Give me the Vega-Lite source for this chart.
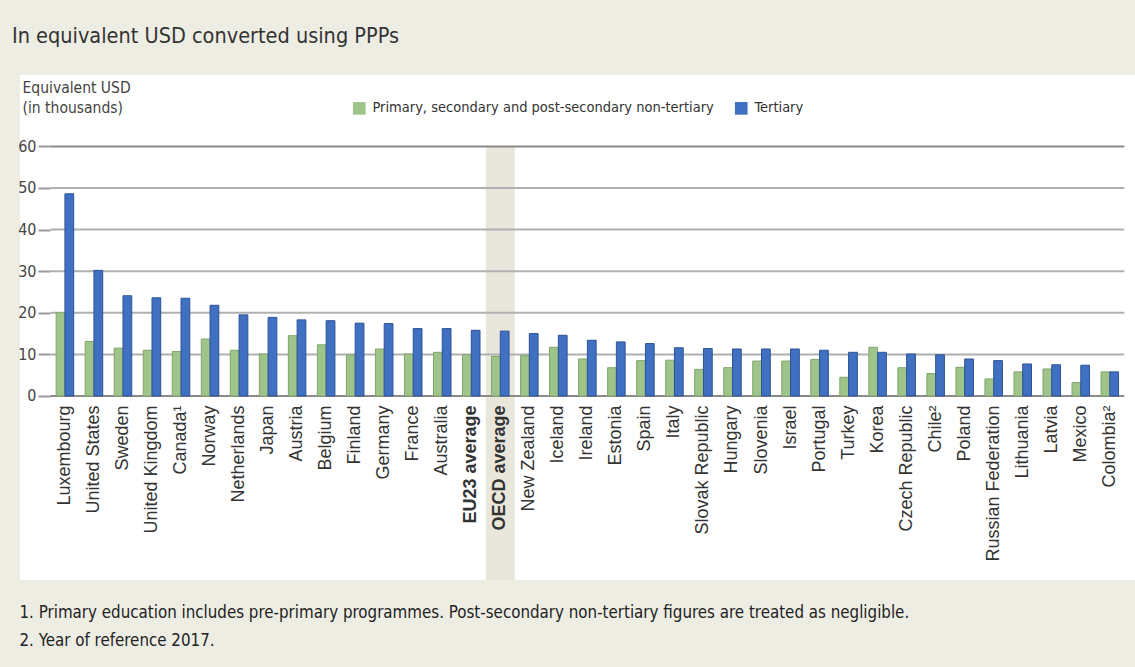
{
  "$schema": "https://vega.github.io/schema/vega-lite/v6.json",
  "autosize": "none",
  "width": 1115,
  "height": 505,
  "padding": {"left": 20, "top": 75, "right": 0, "bottom": 87},
  "background": "#eeede4",
  "config": {
    "view": {"fill": "white", "stroke": null},
    "font": "'DejaVu Sans Condensed', sans-serif"
  },
  "title": {
    "text": "In equivalent USD converted using PPPs",
    "anchor": "start",
    "frame": "group",
    "dx": -8,
    "offset": 28,
    "fontSize": 21.5,
    "fontWeight": "normal",
    "color": "#333333",
    "font": "'DejaVu Sans Condensed', sans-serif"
  },
  "data": {
    "values": [
      {"country": "Luxembourg", "series": "Primary, secondary and post-secondary non-tertiary", "value": 20.0},
      {"country": "Luxembourg", "series": "Tertiary", "value": 48.6},
      {"country": "United States", "series": "Primary, secondary and post-secondary non-tertiary", "value": 13.1},
      {"country": "United States", "series": "Tertiary", "value": 30.2},
      {"country": "Sweden", "series": "Primary, secondary and post-secondary non-tertiary", "value": 11.5},
      {"country": "Sweden", "series": "Tertiary", "value": 24.1},
      {"country": "United Kingdom", "series": "Primary, secondary and post-secondary non-tertiary", "value": 11.0},
      {"country": "United Kingdom", "series": "Tertiary", "value": 23.6},
      {"country": "Canada¹", "series": "Primary, secondary and post-secondary non-tertiary", "value": 10.7},
      {"country": "Canada¹", "series": "Tertiary", "value": 23.5},
      {"country": "Norway", "series": "Primary, secondary and post-secondary non-tertiary", "value": 13.7},
      {"country": "Norway", "series": "Tertiary", "value": 21.8},
      {"country": "Netherlands", "series": "Primary, secondary and post-secondary non-tertiary", "value": 11.0},
      {"country": "Netherlands", "series": "Tertiary", "value": 19.5},
      {"country": "Japan", "series": "Primary, secondary and post-secondary non-tertiary", "value": 10.1},
      {"country": "Japan", "series": "Tertiary", "value": 18.9},
      {"country": "Austria", "series": "Primary, secondary and post-secondary non-tertiary", "value": 14.5},
      {"country": "Austria", "series": "Tertiary", "value": 18.3},
      {"country": "Belgium", "series": "Primary, secondary and post-secondary non-tertiary", "value": 12.3},
      {"country": "Belgium", "series": "Tertiary", "value": 18.1},
      {"country": "Finland", "series": "Primary, secondary and post-secondary non-tertiary", "value": 9.9},
      {"country": "Finland", "series": "Tertiary", "value": 17.5},
      {"country": "Germany", "series": "Primary, secondary and post-secondary non-tertiary", "value": 11.3},
      {"country": "Germany", "series": "Tertiary", "value": 17.4},
      {"country": "France", "series": "Primary, secondary and post-secondary non-tertiary", "value": 10.1},
      {"country": "France", "series": "Tertiary", "value": 16.2},
      {"country": "Australia", "series": "Primary, secondary and post-secondary non-tertiary", "value": 10.5},
      {"country": "Australia", "series": "Tertiary", "value": 16.2},
      {"country": "EU23 average", "series": "Primary, secondary and post-secondary non-tertiary", "value": 9.9},
      {"country": "EU23 average", "series": "Tertiary", "value": 15.8},
      {"country": "OECD average", "series": "Primary, secondary and post-secondary non-tertiary", "value": 9.5},
      {"country": "OECD average", "series": "Tertiary", "value": 15.6},
      {"country": "New Zealand", "series": "Primary, secondary and post-secondary non-tertiary", "value": 9.7},
      {"country": "New Zealand", "series": "Tertiary", "value": 15.0},
      {"country": "Iceland", "series": "Primary, secondary and post-secondary non-tertiary", "value": 11.7},
      {"country": "Iceland", "series": "Tertiary", "value": 14.6},
      {"country": "Ireland", "series": "Primary, secondary and post-secondary non-tertiary", "value": 8.9},
      {"country": "Ireland", "series": "Tertiary", "value": 13.4},
      {"country": "Estonia", "series": "Primary, secondary and post-secondary non-tertiary", "value": 6.8},
      {"country": "Estonia", "series": "Tertiary", "value": 13.0},
      {"country": "Spain", "series": "Primary, secondary and post-secondary non-tertiary", "value": 8.5},
      {"country": "Spain", "series": "Tertiary", "value": 12.6},
      {"country": "Italy", "series": "Primary, secondary and post-secondary non-tertiary", "value": 8.6},
      {"country": "Italy", "series": "Tertiary", "value": 11.6},
      {"country": "Slovak Republic", "series": "Primary, secondary and post-secondary non-tertiary", "value": 6.4},
      {"country": "Slovak Republic", "series": "Tertiary", "value": 11.4},
      {"country": "Hungary", "series": "Primary, secondary and post-secondary non-tertiary", "value": 6.8},
      {"country": "Hungary", "series": "Tertiary", "value": 11.3},
      {"country": "Slovenia", "series": "Primary, secondary and post-secondary non-tertiary", "value": 8.4},
      {"country": "Slovenia", "series": "Tertiary", "value": 11.3},
      {"country": "Israel", "series": "Primary, secondary and post-secondary non-tertiary", "value": 8.4},
      {"country": "Israel", "series": "Tertiary", "value": 11.3},
      {"country": "Portugal", "series": "Primary, secondary and post-secondary non-tertiary", "value": 8.8},
      {"country": "Portugal", "series": "Tertiary", "value": 11.0},
      {"country": "Turkey", "series": "Primary, secondary and post-secondary non-tertiary", "value": 4.5},
      {"country": "Turkey", "series": "Tertiary", "value": 10.5},
      {"country": "Korea", "series": "Primary, secondary and post-secondary non-tertiary", "value": 11.7},
      {"country": "Korea", "series": "Tertiary", "value": 10.5},
      {"country": "Czech Republic", "series": "Primary, secondary and post-secondary non-tertiary", "value": 6.8},
      {"country": "Czech Republic", "series": "Tertiary", "value": 10.1},
      {"country": "Chile²", "series": "Primary, secondary and post-secondary non-tertiary", "value": 5.4},
      {"country": "Chile²", "series": "Tertiary", "value": 9.9},
      {"country": "Poland", "series": "Primary, secondary and post-secondary non-tertiary", "value": 6.9},
      {"country": "Poland", "series": "Tertiary", "value": 8.9},
      {"country": "Russian Federation", "series": "Primary, secondary and post-secondary non-tertiary", "value": 4.1},
      {"country": "Russian Federation", "series": "Tertiary", "value": 8.5},
      {"country": "Lithuania", "series": "Primary, secondary and post-secondary non-tertiary", "value": 5.8},
      {"country": "Lithuania", "series": "Tertiary", "value": 7.7},
      {"country": "Latvia", "series": "Primary, secondary and post-secondary non-tertiary", "value": 6.5},
      {"country": "Latvia", "series": "Tertiary", "value": 7.5},
      {"country": "Mexico", "series": "Primary, secondary and post-secondary non-tertiary", "value": 3.2},
      {"country": "Mexico", "series": "Tertiary", "value": 7.4},
      {"country": "Colombia²", "series": "Primary, secondary and post-secondary non-tertiary", "value": 5.8},
      {"country": "Colombia²", "series": "Tertiary", "value": 5.8}
    ]
  },
  "layer": [
    {
      "transform": [{"filter": "datum.country == 'OECD average' && datum.series == 'Tertiary'"}],
      "mark": {"type": "rect", "color": "#e9e7dc"},
      "encoding": {
        "x": {"field": "country", "type": "nominal", "sort": null},
        "y": {"datum": 60, "type": "quantitative"},
        "y2": {"datum": -44.23}
      }
    },
    {
      "data": {"values": [{"tick": 0}, {"tick": 10}, {"tick": 20}, {"tick": 30}, {"tick": 40}, {"tick": 50}, {"tick": 60}]},
      "mark": {"type": "rule", "strokeWidth": 2},
      "encoding": {
        "y": {"field": "tick", "type": "quantitative"},
        "x": {"datum": "Luxembourg", "bandPosition": 0},
        "x2": {"datum": "Colombia²", "bandPosition": 1},
        "color": {
          "condition": {"test": "datum.tick == 60 || datum.tick == 0", "value": "#8a8a8a"},
          "value": "#b0b0b0"
        }
      }
    },
    {
      "mark": {"type": "bar", "strokeWidth": 1},
      "encoding": {
        "x": {
          "field": "country",
          "type": "nominal",
          "sort": null,
          "scale": {
            "domain": ["Luxembourg", "United States", "Sweden", "United Kingdom", "Canada¹", "Norway", "Netherlands", "Japan", "Austria", "Belgium", "Finland", "Germany", "France", "Australia", "EU23 average", "OECD average", "New Zealand", "Iceland", "Ireland", "Estonia", "Spain", "Italy", "Slovak Republic", "Hungary", "Slovenia", "Israel", "Portugal", "Turkey", "Korea", "Czech Republic", "Chile²", "Poland", "Russian Federation", "Lithuania", "Latvia", "Mexico", "Colombia²"],
            "paddingInner": 0, "paddingOuter": 0.708, "align": 0.74
          },
          "axis": {
            "orient": "bottom",
            "offset": -184,
            "domain": false,
            "ticks": false,
            "labelAngle": -90,
            "labelAlign": "right",
            "labelBaseline": "middle",
            "labelPadding": 9,
            "labelFont": "'Liberation Sans', Arial, sans-serif",
            "labelFontSize": 18,
            "labelColor": "#333333",
            "labelFontWeight": {
              "condition": {"test": "datum.value == 'EU23 average' || datum.value == 'OECD average'", "value": "bold"},
              "value": "normal"
            },
            "labelOverlap": false,
            "title": [
              "1. Primary education includes pre-primary programmes. Post-secondary non-tertiary figures are treated as negligible.",
              "2. Year of reference 2017."
            ],
            "titleFont": "'DejaVu Sans Condensed', sans-serif",
            "titleFontSize": 16.8,
            "titleFontWeight": "normal",
            "titleColor": "#222222",
            "titleAlign": "left",
            "titleBaseline": "top",
            "titleLineHeight": 28,
            "titleX": -1,
            "titleY": 208
          }
        },
        "xOffset": {
          "field": "series",
          "type": "nominal",
          "scale": {"paddingInner": 0, "paddingOuter": 0.656}
        },
        "y": {
          "field": "value",
          "type": "quantitative",
          "scale": {"domain": [-44.23, 77.16], "nice": false, "zero": false},
          "axis": {
            "values": [0, 10, 20, 30, 40, 50, 60],
            "grid": false,
            "domain": false,
            "offset": -30,
            "tickSize": 12,
            "tickWidth": 2,
            "tickColor": "#9a9a9a",
            "labelPadding": 2,
            "labelFontSize": 16,
            "labelColor": "#444444",
            "title": ["Equivalent USD", "(in thousands)"],
            "titleAngle": 0,
            "titleAlign": "left",
            "titleBaseline": "top",
            "titleFontSize": 15.5,
            "titleFontWeight": "normal",
            "titleColor": "#444444",
            "titleLineHeight": 20,
            "titleX": -28,
            "titleY": 5
          }
        },
        "y2": {"datum": 0},
        "color": {
          "field": "series",
          "type": "nominal",
          "scale": {
            "domain": ["Primary, secondary and post-secondary non-tertiary", "Tertiary"],
            "range": ["#9fc48a", "#4070c2"]
          },
          "legend": {
            "title": null,
            "orient": "none",
            "legendX": 332,
            "legendY": 26,
            "direction": "horizontal",
            "symbolType": "square",
            "symbolSize": 160,
            "symbolStrokeWidth": 0,
            "labelFontSize": 14.5,
            "labelColor": "#333333",
            "labelLimit": 600,
            "columnPadding": 20,
            "labelOffset": 6
          }
        },
        "stroke": {
          "field": "series",
          "type": "nominal",
          "scale": {
            "domain": ["Primary, secondary and post-secondary non-tertiary", "Tertiary"],
            "range": ["#80a56c", "#2d5394"]
          },
          "legend": null
        }
      }
    }
  ]
}
